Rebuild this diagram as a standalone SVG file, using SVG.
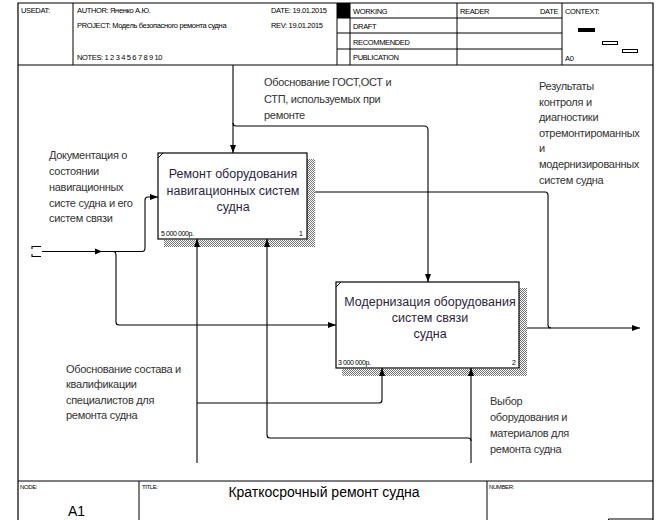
<svg xmlns="http://www.w3.org/2000/svg" width="658" height="520" viewBox="0 0 658 520">
<defs>
<style>
.frame{fill:none;stroke:#000;stroke-width:1.2}
.thin{fill:none;stroke:#000;stroke-width:1}
.hdr{font-family:"Liberation Sans",Arial,sans-serif;font-size:7.5px;fill:#000;letter-spacing:-0.35px}
.tiny{font-family:"Liberation Sans",Arial,sans-serif;font-size:6px;fill:#000;letter-spacing:-0.4px}
.lbl{font-family:"Liberation Sans",Arial,sans-serif;font-size:11px;fill:#333;letter-spacing:-0.3px}
.box{fill:#fff;stroke:#000;stroke-width:1.2}
.btxt{font-family:"Liberation Sans",Arial,sans-serif;font-size:12.5px;fill:#2d1f3d;text-anchor:middle;letter-spacing:0px}
.cost{font-family:"Liberation Sans",Arial,sans-serif;font-size:7px;fill:#000;letter-spacing:-0.4px}
.conn{fill:none;stroke:#000;stroke-width:1.1}
</style>
<pattern id="hatch" width="2" height="2" patternUnits="userSpaceOnUse">
<rect width="2" height="2" fill="#fff"/>
<rect width="1" height="1" fill="#777"/>
<rect x="1" y="1" width="1" height="1" fill="#777"/>
</pattern>
<marker id="arr" markerWidth="8" markerHeight="6" refX="8" refY="3" orient="auto" markerUnits="userSpaceOnUse">
<path d="M0,0 L8,3 L0,6 Z" fill="#000"/>
</marker>
</defs>
<rect width="658" height="520" fill="#fff"/>

<g id="frame">
<path class="frame" d="M18,520 V3 H653 V520"/>
<path class="frame" d="M18,65 H653"/>
<path class="thin" d="M73,3 V65 M337,3 V65 M350,3 V65 M457,3 V65 M562,3 V65 M337,18 H562 M337,33 H562 M337,49 H562"/>
<rect x="337" y="3" width="13" height="15" fill="#000"/>
<text class="hdr" x="21" y="13">USEDAT:</text>
<text class="hdr" x="77" y="13">AUTHOR:  Яненко А.Ю.</text>
<text class="hdr" x="271" y="13">DATE:  19.01.2015</text>
<text class="hdr" x="77" y="28">PROJECT:  Модель безопасного ремонта судна</text>
<text class="hdr" x="271" y="28">REV:    19.01.2015</text>
<text class="hdr" x="77" y="60">NOTES:  1  2  3  4  5  6  7  8  9  10</text>
<text class="hdr" x="353" y="14">WORKING</text>
<text class="hdr" x="353" y="29">DRAFT</text>
<text class="hdr" x="353" y="45">RECOMMENDED</text>
<text class="hdr" x="353" y="60">PUBLICATION</text>
<text class="hdr" x="460" y="14">READER</text>
<text class="hdr" x="540" y="14">DATE</text>
<text class="hdr" x="565" y="14">CONTEXT:</text>
<text class="hdr" x="565" y="61">A0</text>
<rect x="578" y="28" width="17" height="4" fill="#000"/>
<rect x="602.5" y="41.5" width="15" height="3" fill="#fff" stroke="#000" stroke-width="1"/>
<rect x="622.5" y="49.5" width="15" height="3" fill="#fff" stroke="#000" stroke-width="1"/>
<path class="frame" d="M18,481 H653"/>
<path class="thin" d="M139,481 V520 M487,481 V520 M608.5,520 V519 H653"/>
<text class="tiny" x="20" y="489">NODE:</text>
<text class="tiny" x="142" y="489">TITLE:</text>
<text class="tiny" x="489" y="489">NUMBER:</text>
<text x="68" y="516" font-family="Liberation Sans, Arial, sans-serif" font-size="14" fill="#000">A1</text>
<text x="324" y="497" font-family="Liberation Sans, Arial, sans-serif" font-size="14" fill="#000" text-anchor="middle">Краткосрочный ремонт судна</text>
</g>

<g id="box1">
<rect x="307" y="159" width="8" height="88" fill="url(#hatch)"/>
<rect x="164" y="240" width="151" height="7" fill="url(#hatch)"/>
<rect class="box" x="158" y="153" width="149" height="86"/>
<path class="thin" d="M158,158 L163,153" stroke-width="0.8"/>
<text class="btxt" x="233" y="178">Ремонт оборудования</text>
<text class="btxt" x="233" y="195">навигационных  систем</text>
<text class="btxt" x="233" y="211">судна</text>
<text class="cost" x="161" y="236">5 000 000р.</text>
<text class="cost" x="299" y="236">1</text>
</g>

<g id="box2">
<rect x="519" y="288" width="8" height="88" fill="url(#hatch)"/>
<rect x="342" y="369" width="185" height="7" fill="url(#hatch)"/>
<rect class="box" x="336" y="282" width="183" height="86"/>
<path class="thin" d="M336,287 L341,282" stroke-width="0.8"/>
<text class="btxt" x="430" y="306">Модернизация оборудования</text>
<text class="btxt" x="430" y="322">систем связи</text>
<text class="btxt" x="430" y="338">судна</text>
<text class="cost" x="338" y="365">3 000 000р.</text>
<text class="cost" x="512" y="365">2</text>
</g>

<g id="connectors">
<path class="conn" d="M233,65 V153" marker-end="url(#arr)"/>
<path class="conn" d="M233,123 Q233,126 236,126 H424 Q428,126 428,130 V282" marker-end="url(#arr)"/>
<path class="conn" d="M41,246.5 H32 V249 M41,256.5 H32 V254"/>
<path class="conn" d="M42,251.5 H142 Q145,251.5 145,248 V200 Q145,197 148,197 H158" marker-end="url(#arr)"/>
<path d="M95,248.5 L102,251.5 L95,254.5 Z" fill="#000"/>
<path class="conn" d="M113,251.5 Q116,251.5 116,255 V322 Q116,325 119,325 H336" marker-end="url(#arr)"/>
<path class="conn" d="M315,192 H545 Q548,192 548,195 V325 Q548,328 551,328"/>
<path class="conn" d="M527,328 H640" marker-end="url(#arr)"/>
<path class="conn" d="M197,463 V239" marker-end="url(#arr)"/>
<path class="conn" d="M197,403 H379 Q382,403 382,400 V368" marker-end="url(#arr)"/>
<path class="conn" d="M471,463 V368" marker-end="url(#arr)"/>
<path class="conn" d="M471,441 Q471,438 468,438 H270 Q267,438 267,435 V239" marker-end="url(#arr)"/>
</g>

<g id="labels">
<text class="lbl" x="264" y="86">Обоснование ГОСТ,ОСТ и</text>
<text class="lbl" x="264" y="103">СТП, используемых при</text>
<text class="lbl" x="264" y="119">ремонте</text>
<text class="lbl" x="49" y="159">Документация о</text>
<text class="lbl" x="49" y="175">состоянии</text>
<text class="lbl" x="49" y="191">навигационных</text>
<text class="lbl" x="49" y="207">систе судна и его</text>
<text class="lbl" x="49" y="222">систем связи</text>
<text class="lbl" x="539" y="90">Результаты</text>
<text class="lbl" x="539" y="106">контроля и</text>
<text class="lbl" x="539" y="121">диагностики</text>
<text class="lbl" x="539" y="137">отремонтироманных</text>
<text class="lbl" x="539" y="152">и</text>
<text class="lbl" x="539" y="168">модернизированных</text>
<text class="lbl" x="539" y="184">систем судна</text>
<text class="lbl" x="66" y="373">Обоснование состава и</text>
<text class="lbl" x="66" y="388">квалификации</text>
<text class="lbl" x="66" y="404">специалистов для</text>
<text class="lbl" x="66" y="419">ремонта судна</text>
<text class="lbl" x="490" y="405">Выбор</text>
<text class="lbl" x="490" y="421">оборудования и</text>
<text class="lbl" x="490" y="437">материалов для</text>
<text class="lbl" x="490" y="453">ремонта судна</text>
</g>
</svg>
